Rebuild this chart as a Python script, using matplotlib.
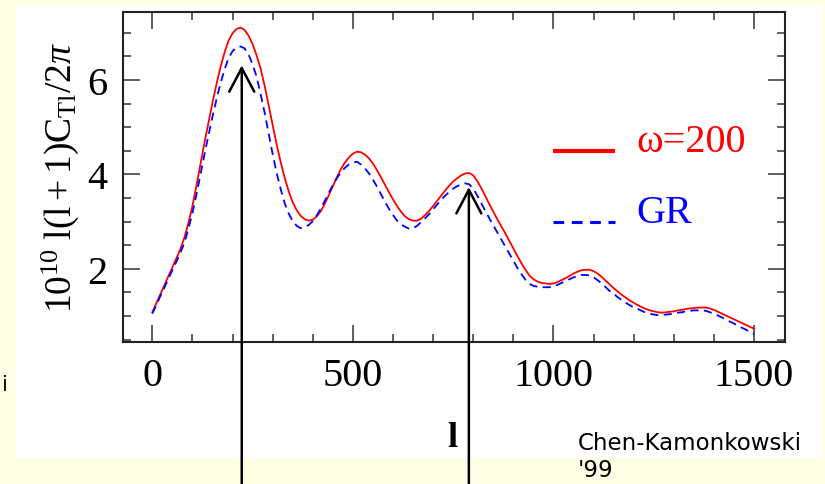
import matplotlib
matplotlib.use("Agg")
import matplotlib.pyplot as plt
from matplotlib.patches import Rectangle
from matplotlib.ticker import MultipleLocator

# multipole l, every 10 from 0 to 1500
ell = list(range(0, 1501, 10))

# 10^10 l(l+1)C_l/2pi, omega=200 (red, solid)
cl_omega = [
    1.08, 1.27, 1.46, 1.65, 1.84, 2.03, 2.22, 2.42, 2.66, 2.97,
    3.33, 3.76, 4.22, 4.67, 5.10, 5.52, 5.91, 6.27, 6.58, 6.83,
    6.99, 7.08, 7.11, 7.06, 6.94, 6.76, 6.52, 6.24, 5.88, 5.46,
    5.04, 4.63, 4.26, 3.93, 3.64, 3.41, 3.24, 3.12, 3.05, 3.02,
    3.04, 3.11, 3.22, 3.38, 3.56, 3.75, 3.94, 4.11, 4.25, 4.36,
    4.44, 4.48, 4.47, 4.42, 4.34, 4.23, 4.09, 3.94, 3.78, 3.62,
    3.47, 3.33, 3.21, 3.11, 3.05, 3.02, 3.02, 3.06, 3.14, 3.23,
    3.33, 3.44, 3.55, 3.66, 3.76, 3.85, 3.92, 3.98, 4.02, 4.03,
    3.98, 3.86, 3.71, 3.54, 3.37, 3.21, 3.05, 2.90, 2.75, 2.59,
    2.43, 2.27, 2.12, 1.98, 1.86, 1.78, 1.73, 1.70, 1.69, 1.68,
    1.69, 1.72, 1.76, 1.80, 1.85, 1.90, 1.94, 1.97, 1.98, 1.98,
    1.95, 1.90, 1.83, 1.75, 1.67, 1.59, 1.52, 1.45, 1.39, 1.33,
    1.28, 1.23, 1.19, 1.15, 1.12, 1.10, 1.08, 1.07, 1.08, 1.09,
    1.10, 1.12, 1.13, 1.15, 1.16, 1.17, 1.18, 1.18, 1.18, 1.16,
    1.13, 1.09, 1.05, 1.01, 0.97, 0.93, 0.89, 0.85, 0.81, 0.77,
    0.73]

# GR (blue, dashed)
cl_gr = [
    1.05, 1.23, 1.42, 1.60, 1.79, 1.97, 2.15, 2.34, 2.55, 2.85,
    3.18, 3.57, 4.00, 4.42, 4.83, 5.22, 5.59, 5.93, 6.22, 6.46,
    6.61, 6.69, 6.71, 6.67, 6.54, 6.33, 6.07, 5.70, 5.31, 4.87,
    4.43, 4.03, 3.69, 3.39, 3.17, 3.01, 2.91, 2.86, 2.88, 2.93,
    3.01, 3.13, 3.28, 3.44, 3.61, 3.77, 3.92, 4.04, 4.14, 4.21,
    4.25, 4.27, 4.21, 4.13, 4.02, 3.89, 3.74, 3.58, 3.42, 3.27,
    3.14, 3.02, 2.94, 2.89, 2.85, 2.86, 2.91, 2.99, 3.07, 3.16,
    3.26, 3.36, 3.46, 3.55, 3.63, 3.70, 3.75, 3.79, 3.81, 3.79,
    3.70, 3.55, 3.39, 3.23, 3.07, 2.92, 2.77, 2.62, 2.47, 2.32,
    2.17, 2.02, 1.89, 1.77, 1.68, 1.64, 1.62, 1.61, 1.61, 1.61,
    1.63, 1.66, 1.70, 1.74, 1.78, 1.82, 1.85, 1.87, 1.87, 1.86,
    1.82, 1.76, 1.69, 1.61, 1.53, 1.47, 1.40, 1.34, 1.28, 1.23,
    1.18, 1.15, 1.11, 1.07, 1.05, 1.03, 1.02, 1.02, 1.03, 1.04,
    1.05, 1.07, 1.08, 1.10, 1.11, 1.12, 1.12, 1.12, 1.11, 1.08,
    1.05, 1.01, 0.97, 0.93, 0.88, 0.84, 0.79, 0.75, 0.71, 0.66,
    0.62]

# arrows pointing at the first and third peaks
arrow_l = [223, 789]
arrow_tip = [6.31, 3.73]

serif = "Liberation Serif"
plt.rcParams["mathtext.fontset"] = "custom"
plt.rcParams["mathtext.rm"] = serif
plt.rcParams["mathtext.it"] = serif + ":italic"

fig = plt.figure(figsize=(8.25, 4.85), dpi=100, facecolor="#ffffe6")
fig.patches.append(Rectangle((16 / 825, 26 / 485), 806 / 825, 453 / 485,
                             transform=fig.transFigure, facecolor="white",
                             edgecolor="none", zorder=-5))

ax = fig.add_axes([0.1491, 0.2928, 0.8024, 0.6804])
ax.set_facecolor("none")
ax.plot(ell, cl_omega, color="#ff0000", lw=1.3)
ax.plot(ell, cl_gr, color="#0000ff", lw=1.3, dashes=(4.5, 3))

ax.set_xlim(-73, 1577)
ax.set_ylim(0.45, 7.44)
ax.xaxis.set_major_locator(MultipleLocator(500))
ax.xaxis.set_minor_locator(MultipleLocator(100))
ax.yaxis.set_major_locator(MultipleLocator(2))
ax.yaxis.set_minor_locator(MultipleLocator(0.5))
ax.tick_params(which="both", direction="in", top=True, right=True,
               color="#333333", width=1.1)
ax.tick_params(which="major", length=12)
ax.tick_params(which="minor", length=6)
ax.tick_params(axis="x", pad=11)
ax.tick_params(axis="y", pad=11)
for lab in ax.get_xticklabels() + ax.get_yticklabels():
    lab.set_fontfamily(serif)
    lab.set_fontsize(29)
for sp in ax.spines.values():
    sp.set_linewidth(1.5)
    sp.set_color("#222222")

# the "8" label that sticks out above the frame
ax.text(-0.032, 8, "8", transform=ax.get_yaxis_transform(), ha="right",
        va="center", fontsize=29, family=serif, clip_on=False)

ax.set_ylabel(r"$10^{10}\ \mathrm{l(l+1)C_{Tl}/2}\pi$", fontsize=27)
ax.yaxis.set_label_coords(-0.095, 0.5)
ax.yaxis.label.set_va("center")
ax.set_xlabel("l", fontsize=26, family=serif, fontweight="bold")
ax.xaxis.set_label_coords(0.497, -0.288)
ax.xaxis.label.set_va("center")

# legend keys
ax.plot([0.6495, 0.743], [0.5788, 0.5788], color="#ff0000", lw=3,
        transform=ax.transAxes, solid_capstyle="butt")
ax.plot([0.6495, 0.743], [0.3636, 0.3636], color="#0000ff", lw=2.2,
        dashes=(3.5, 2.5), transform=ax.transAxes)
ax.text(0.776, 0.5788, "ω=200", color="#ff0000", fontsize=29, family=serif,
        va="baseline", transform=ax.transAxes)
ax.text(0.776, 0.3636, "GR", color="#0000ff", fontsize=29, family=serif,
        va="baseline", transform=ax.transAxes)

for xl, yt in zip(arrow_l, arrow_tip):
    ax.annotate("", xy=(xl, yt), xycoords="data",
                xytext=(xl, -0.02), textcoords=("data", "figure fraction"),
                arrowprops=dict(arrowstyle="->,head_length=0.85,head_width=0.45",
                                color="black", lw=1.8, shrinkA=0, shrinkB=0,
                                mutation_scale=20))

fig.text(578 / 825, 1 - 450 / 485, "Chen-Kamonkowski", fontsize=16.5,
         family="DejaVu Sans", va="baseline")
fig.text(578 / 825, 1 - 477 / 485, "'99", fontsize=16.5, family="DejaVu Sans",
         va="baseline")
fig.text(0.002, 1 - 391 / 485, "i", fontsize=15, family="DejaVu Sans",
         va="baseline")

fig.savefig("out.png", dpi=100, facecolor=fig.get_facecolor())
